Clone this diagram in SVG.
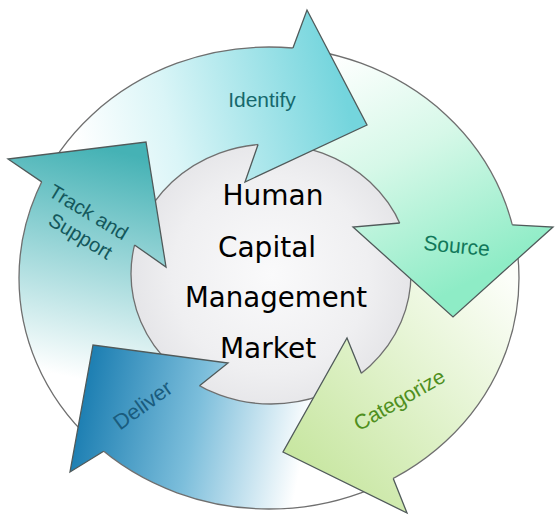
<svg xmlns="http://www.w3.org/2000/svg" width="558" height="526" viewBox="0 0 558 526">
  <defs>
    <radialGradient id="gCenter" cx="271" cy="274" r="140" gradientUnits="userSpaceOnUse">
      <stop offset="0" stop-color="#fafafb"/>
      <stop offset="0.7" stop-color="#efeff1"/>
      <stop offset="1" stop-color="#e5e5e8"/>
    </radialGradient>
    <linearGradient id="gIdentify" x1="80" y1="160" x2="345" y2="95" gradientUnits="userSpaceOnUse">
      <stop offset="0" stop-color="#ffffff"/>
      <stop offset="0.35" stop-color="#daf5f7"/>
      <stop offset="1" stop-color="#74d5dd"/>
    </linearGradient>
    <linearGradient id="gSource" x1="335" y1="55" x2="455" y2="290" gradientUnits="userSpaceOnUse">
      <stop offset="0" stop-color="#ffffff"/>
      <stop offset="0.45" stop-color="#d6f8e8"/>
      <stop offset="1" stop-color="#8eecc6"/>
    </linearGradient>
    <linearGradient id="gCategorize" x1="505" y1="275" x2="300" y2="470" gradientUnits="userSpaceOnUse">
      <stop offset="0" stop-color="#fcfef9"/>
      <stop offset="0.4" stop-color="#e7f5d6"/>
      <stop offset="1" stop-color="#c7e6a0"/>
    </linearGradient>
    <linearGradient id="gDeliver" x1="85" y1="400" x2="305" y2="445" gradientUnits="userSpaceOnUse">
      <stop offset="0" stop-color="#1f80b3"/>
      <stop offset="0.5" stop-color="#7cbedb"/>
      <stop offset="1" stop-color="#ffffff"/>
    </linearGradient>
    <linearGradient id="gTrack" x1="110" y1="150" x2="60" y2="375" gradientUnits="userSpaceOnUse">
      <stop offset="0" stop-color="#45b2b5"/>
      <stop offset="0.45" stop-color="#98d5d7"/>
      <stop offset="1" stop-color="#ffffff"/>
    </linearGradient>
  </defs>
  <style>
    .ring { fill: none; stroke: #6f6f6f; stroke-width: 1.3; }
    .head { stroke: #505a5a; stroke-width: 1.3; stroke-linejoin: miter; }
    .lbl { font-family: "Liberation Sans", Arial, sans-serif; text-anchor: middle; }
    .center { font-family: "Segoe Print", "DejaVu Sans", sans-serif; font-size: 28px; fill: #000; text-anchor: middle; }
  </style>
  <rect width="558" height="526" fill="#ffffff"/>
  <ellipse id="hub" cx="271" cy="274" rx="140" ry="130" fill="url(#gCenter)"/>
  <g id="shafts">
    <path d="M 55.84,157.30 A 250 231 0 0 1 303.79,49.25 L 264.16,144.15 A 140 130 0 0 0 146.26,214.98 Z" fill="url(#gIdentify)"/>
    <path d="M 320.13,51.88 A 250 231 0 0 1 514.41,233.92 L 402.05,228.26 A 140 130 0 0 0 307.23,148.43 Z" fill="url(#gSource)"/>
    <path d="M 516.44,245.05 A 250 231 0 0 1 384.44,482.90 L 356.62,376.85 A 140 130 0 0 0 410.47,262.67 Z" fill="url(#gCategorize)"/>
    <path d="M 374.65,487.36 A 250 231 0 0 1 96.91,445.56 L 194.75,383.03 A 140 130 0 0 0 341,386.58 Z" fill="url(#gDeliver)"/>
    <path d="M 90.69,439.91 A 250 231 0 0 1 46.25,173.13 L 136.09,239.26 A 140 130 0 0 0 176.60,370.00 Z" fill="url(#gTrack)"/>
  </g>
  <g id="rings">
    <ellipse class="ring" cx="269" cy="278" rx="250" ry="231"/>
    <ellipse class="ring" cx="271" cy="274" rx="140" ry="130"/>
  </g>
  <g id="identify">
    <path class="head" d="M 292.96,48.06 L 307,10 L 367,125 L 245,182 L 258.07,144.56" fill="url(#gIdentify)"/>
    <text class="lbl" x="262" y="107" font-size="21" fill="#15686c">Identify</text>
  </g>
  <g id="source">
    <path class="head" d="M 512.30,224.86 L 553,227 L 453,317 L 353,227 L 399.77,222.99" fill="url(#gSource)"/>
    <text class="lbl" font-size="21" fill="#11785a" transform="translate(456,253) rotate(5.5)">Source</text>
  </g>
  <g id="categorize">
    <path class="head" d="M 393.24,478.45 L 407,513 L 283,452 L 347,338 L 361.36,373.29" fill="url(#gCategorize)"/>
    <text class="lbl" font-size="21" fill="#4f8f20" transform="translate(403,406) rotate(-30)">Categorize</text>
  </g>
  <g id="deliver">
    <path class="head" d="M 103.67,451.28 L 70,472 L 93,345 L 228,363 L 199.52,385.78" fill="url(#gDeliver)"/>
    <text class="lbl" font-size="21.5" fill="#1a5c7e" transform="translate(147,411) rotate(-36)">Deliver</text>
  </g>
  <g id="track-and-support">
    <path class="head" d="M 41.69,181.84 L 8,159 L 146,142 L 166,267 L 134.53,244.98" fill="url(#gTrack)"/>
    <text class="lbl" font-size="20" fill="#14585c" transform="translate(85,218) rotate(31)">Track and</text>
    <text class="lbl" font-size="20" fill="#14585c" transform="translate(77,242) rotate(31)">Support</text>
  </g>
  <g id="title">
    <text class="center" x="273" y="205">Human</text>
    <text class="center" x="267" y="257">Capital</text>
    <text class="center" x="276" y="307" textLength="182" lengthAdjust="spacingAndGlyphs">Management</text>
    <text class="center" x="268" y="358">Market</text>
  </g>
</svg>
